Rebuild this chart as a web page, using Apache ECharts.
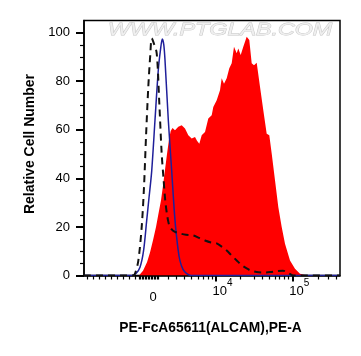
<!DOCTYPE html>
<html><head><meta charset="utf-8">
<script src="https://cdn.jsdelivr.net/npm/echarts@6/dist/echarts.min.js"></script>
<style>html,body{margin:0;padding:0;background:#fff}#c{width:361px;height:356px}</style>
</head><body><div id="c"></div>
<script>
// x values are display channels (0..256) of the biexponential PE-A axis
const redX = [0,55,59,63,66,69,72,74.5,77,79,81,83,85,86.7,88.5,91,94.3,97.7,101,104.3,107.7,111,113,115.3,117.7,121,124.3,127.7,129.3,132.7,136,137.7,140,142.7,145.3,147.7,150,152.7,154.3,156.7,159.3,162.7,165.3,167.7,170,172.7,176,179.3,182.7,185.3,187.7,191,194.3,197.7,201,206,211,216,222.7,256];
const redY = [0,0,2,5.5,9.5,14.5,20,25.5,31,37,43.5,50,56,59.5,60.7,59.8,61.2,61.9,60.5,57.8,56.4,57,55.5,54.3,57.8,59.1,64.6,66,69.4,72.2,76.3,81.2,79,81.2,85.3,87.4,94.2,91.5,93.5,90.8,94.2,98.3,97,87.4,86.6,87.6,77.7,68,58.4,57.8,50.2,39.2,28.2,20,13.1,6.2,2.8,0.7,0,0];
const blueX = [0,47.7,52,56,59.5,62.7,65,67.7,71,74.3,76.5,78.3,79.8,81,84.3,87.7,91,94,96,99,102.7,107,256];
const blueY = [0,0,0.8,3.4,10,22.7,32,43,64,84.6,93,97.4,95,88.7,64,43,22.7,11,6,2.5,0.8,0,0];
const dashX = [0,49,51,54.3,57.7,60,62,64.3,66.3,67.7,69.5,72.7,75.3,77.7,79.5,81,82.7,85,87.7,91,96,102,109.3,115,121,127,132.7,138,142.7,147,152.7,157,162.7,167,172.7,179,186,193,199,204,209,256];
const dashY = [0,0,0.8,6,20,36.4,57,77.7,91,97.6,96,91.5,71,50,40,32,26,21,19,18,17.3,16.8,16.5,15.5,14.4,13.6,13.2,11.8,10.3,8.5,6.2,4.5,2.9,2,1.4,1.2,1.4,1.8,2,1.2,0,0];

const xLabelPos = [66, 132, 208.7];
const xLabels = ['0', '10^4', '10^5'];
const xMajorTicks = [132, 208.7];
const xMinorTicks = [3,9,15,21,27,33,39,45,51,55,56.5,58,59.5,61,62.5,64,65.5,67,68.5,70,71.5,73,74.5,84,92,100,107.5,114,119.5,124,128,156.5,170,178.5,185.5,191,195.5,200,204,234,244.5,252.5];
const yTicks = [0,20,40,60,80,100];

const xTitle = 'PE-FcA65611(ALCAM),PE-A';
const yTitle = 'Relative Cell Number';
const watermark = 'WWW.PTGLAB.COM';

const FONT = '"Liberation Sans", Arial, Helvetica, sans-serif';
const zip = (xs, ys) => xs.map((x, i) => [x, ys[i]]);
const chart = echarts.init(document.getElementById('c'), null, {renderer: 'canvas'});

function fmtX(v) {
  let idx = xLabelPos.findIndex(p => Math.abs(p - v) < 0.01);
  if (idx < 0) return '';
  const t = xLabels[idx];
  if (t.indexOf('^') < 0) return '{z|' + t + '}';
  const parts = t.split('^');
  return '{b|' + parts[0] + '}{s|' + parts[1] + '}';
}

chart.setOption({
  animation: false,
  backgroundColor: '#fff',
  grid: {left: 84, right: 21, top: 20.5, bottom: 80.5, show: true, borderColor: '#000', borderWidth: 1.5, backgroundColor: 'transparent'},
  graphic: [{
    type: 'text', x: 108, y: 22, scaleX: 1.37, z: 0,
    style: {text: watermark, fontSize: 17, fontFamily: FONT, fontStyle: 'italic', fill: '#efefef', stroke: '#c6c6c6', lineWidth: 0.8, textAlign: 'left', textVerticalAlign: 'top'}
  }],
  xAxis: [{
    type: 'value', min: 0, max: 256, position: 'bottom',
    axisLine: {show: true, onZero: false, lineStyle: {color: '#000', width: 1.5}},
    axisTick: {show: true, inside: false, length: 4, customValues: xMinorTicks, lineStyle: {color: '#000', width: 1.2}},
    axisLabel: {show: true, customValues: xLabelPos, formatter: fmtX, margin: 3, color: '#000',
      rich: {
        z: {fontSize: 13, fontFamily: FONT, color: '#000', padding: [12, 0, 0, 6]},
        b: {fontSize: 13, fontFamily: FONT, color: '#000', padding: [0, 0, 0, 13]},
        s: {fontSize: 10, fontFamily: FONT, color: '#000', padding: [0, 0, 15, 0]}
      }},
    splitLine: {show: false},
    name: xTitle, nameLocation: 'middle', nameGap: 46,
    nameTextStyle: {fontSize: 13.8, fontWeight: 'bold', fontFamily: FONT, color: '#000', padding: [0, 3, 0, 0]}
  }, {
    type: 'value', min: 0, max: 256, position: 'bottom',
    axisLine: {show: false, onZero: false},
    axisTick: {show: true, length: 6, customValues: xMajorTicks, lineStyle: {color: '#000', width: 2}},
    axisLabel: {show: false},
    splitLine: {show: false}
  }],
  yAxis: {
    type: 'value', min: 0, max: 105, interval: 20,
    axisLine: {show: true, onZero: false, lineStyle: {color: '#000', width: 1.5}},
    axisTick: {show: true, length: 8, customValues: yTicks, lineStyle: {color: '#000', width: 2}},
    minorTick: {show: true, splitNumber: 4, length: 4, lineStyle: {color: '#000', width: 1.2}},
    axisLabel: {customValues: yTicks, margin: 14, fontSize: 13, fontFamily: FONT, color: '#000'},
    splitLine: {show: false},
    name: yTitle, nameLocation: 'middle', nameGap: 45,
    nameTextStyle: {fontSize: 14, fontWeight: 'bold', fontFamily: FONT, color: '#000', padding: [0, 0, 0, 8]}
  },
  series: [{
    type: 'line', data: zip(redX, redY), symbol: 'none', silent: true,
    lineStyle: {width: 0}, areaStyle: {color: '#ff0000', opacity: 1}, itemStyle: {color: '#ff0000'}
  }, {
    type: 'line', data: zip(blueX, blueY), symbol: 'none', smooth: 0.3, silent: true,
    lineStyle: {color: '#1f1f9a', width: 1.5}
  }, {
    type: 'line', data: zip(dashX, dashY), symbol: 'none', smooth: 0.3, silent: true,
    lineStyle: {color: '#111111', width: 2, type: [7, 5]}
  }]
});
</script></body></html>
